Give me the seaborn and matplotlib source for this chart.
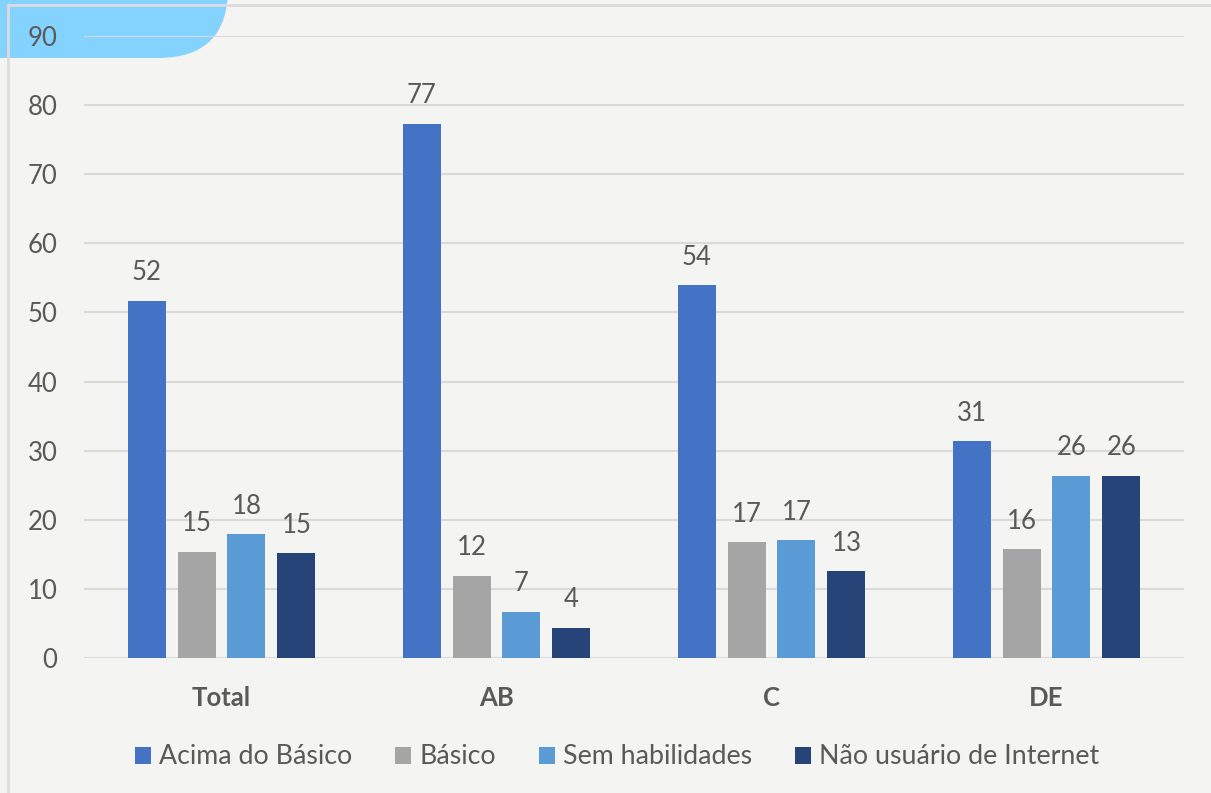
import matplotlib
matplotlib.use("Agg")
import matplotlib.pyplot as plt
from matplotlib.patches import FancyBboxPatch
from matplotlib.lines import Line2D
import seaborn as sns
import pandas as pd

# data
grupos = ["Total", "AB", "C", "DE"]
series = ["Acima do Básico", "Básico", "Sem habilidades", "Não usuário de Internet"]
acima = [51.7, 77.3, 54.0, 31.4]
basico = [15.4, 11.9, 16.8, 15.8]
sem_hab = [17.9, 6.7, 17.1, 26.4]
nao_usuario = [15.2, 4.4, 12.6, 26.4]
yticks = [0, 10, 20, 30, 40, 50, 60, 70, 80, 90]

cores = ["#4472C4", "#A5A5A5", "#5B9BD5", "#264478"]
texto = "#595959"
fundo = "#F4F4F2"

rows = []
for s, vals in zip(series, [acima, basico, sem_hab, nao_usuario]):
    for g, v in zip(grupos, vals):
        rows.append({"grupo": g, "serie": s, "valor": v})
df = pd.DataFrame(rows)

sns.set_style("white")
plt.rcParams["font.family"] = ["Lato", "DejaVu Sans"]

W, H = 1211, 793
fig = plt.figure(figsize=(W / 100, H / 100), dpi=100, facecolor=fundo)
ax = fig.add_axes([84 / W, 135 / H, 1100 / W, 622 / H])
ax.set_facecolor("none")
ax.set_zorder(3)

# light blue tab top-left and thin frame lines (pixel coords)
fig.patches.append(FancyBboxPatch((-300, H - 58), 528, 400,
                                  boxstyle="round,pad=0,rounding_size=70",
                                  transform=None, facecolor="#84D2FE",
                                  edgecolor="none", zorder=0))
fig.lines.append(Line2D([8, W], [H - 5, H - 5], transform=None,
                        color="#DCDCDC", lw=2, zorder=1))
fig.lines.append(Line2D([8, 8], [0, H - 5], transform=None,
                        color="#DCDCDC", lw=2, zorder=1))

sns.barplot(data=df, x="grupo", y="valor", hue="serie", order=grupos,
            hue_order=series, palette=cores, width=0.727, gap=0.24,
            saturation=1, linewidth=0, ax=ax, zorder=3)

for cont in ax.containers:
    ax.bar_label(cont, fmt="%.0f", padding=11, fontsize=18.5, color=texto)

ax.set_ylim(0, 90)
ax.set_xlim(-0.5, 3.5)
ax.set_yticks(yticks)
ax.yaxis.grid(True, color="#DADADA", lw=1.5, zorder=0)
ax.set_axisbelow(True)
for s in ax.spines.values():
    s.set_visible(False)
ax.tick_params(axis="y", length=0, pad=19, labelsize=18.5, labelcolor=texto)
ax.tick_params(axis="x", length=0, pad=20, labelsize=18.5, labelcolor=texto)
for lab in ax.get_xticklabels():
    lab.set_fontweight("bold")
ax.set_xlabel("")
ax.set_ylabel("")

ax.legend(loc="center", bbox_to_anchor=(617 / W, 1 - 757 / H),
          bbox_transform=fig.transFigure, ncol=4, frameon=False,
          fontsize=19.3, handlelength=0.6, handleheight=0.6,
          handletextpad=0.3, columnspacing=1.6, labelcolor=texto)

fig.savefig("out.png", dpi=100, facecolor=fundo)
